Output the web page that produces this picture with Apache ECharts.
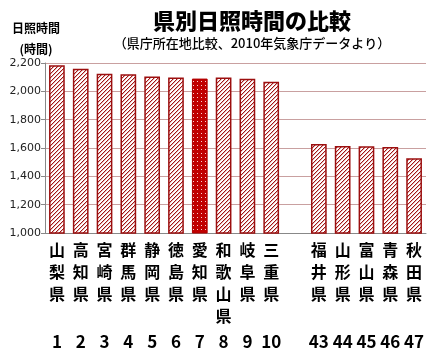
<!DOCTYPE html>
<html>
<head>
<meta charset="utf-8">
<script src="https://cdn.jsdelivr.net/npm/echarts@6/dist/echarts.min.js"></script>
<style>
    html, body { margin: 0; padding: 0; background: #fff; }
    #main { width: 433px; height: 353px; }
</style>
</head>
<body>
<div id="main"></div>
<script>
const prefs = ['山梨県', '高知県', '宮崎県', '群馬県', '静岡県', '徳島県', '愛知県', '和歌山県', '岐阜県', '三重県', '', '福井県', '山形県', '富山県', '青森県', '秋田県'];
const ranks = ['1', '2', '3', '4', '5', '6', '7', '8', '9', '10', '', '43', '44', '45', '46', '47'];
const hours = [2185, 2160, 2125, 2120, 2104, 2097, 2090, 2097, 2088, 2068, null, 1628, 1614, 1613, 1607, 1527];
const highlight = '愛知県';

// 斜線パターン
const hatch = document.createElement('canvas');
hatch.width = 4; hatch.height = 4;
let ctx = hatch.getContext('2d');
ctx.fillStyle = '#fff';
ctx.fillRect(0, 0, 4, 4);
for (let i = 0; i < 4; i++) {
    ctx.fillStyle = '#a31515';
    ctx.fillRect(i, 3 - i, 1, 1);
    ctx.fillStyle = 'rgba(163,21,21,0.3)';
    ctx.fillRect(i, (4 - i) % 4, 1, 1);
}

// ドットパターン（愛知県）
const dots = document.createElement('canvas');
dots.width = 4; dots.height = 4;
ctx = dots.getContext('2d');
ctx.fillStyle = '#c00000';
ctx.fillRect(0, 0, 4, 4);
ctx.fillStyle = '#f6d0d0';
ctx.fillRect(1, 1, 1, 1);

const myChart = echarts.init(document.getElementById('main'));
const option = {
    animation: false,
    title: [
        {
            text: '県別日照時間の比較',
            subtext: '（県庁所在地比較、2010年気象庁データより）',
            left: 247,
            top: 5,
            textAlign: 'center',
            itemGap: 5,
            textStyle: {
                fontFamily: 'Noto Sans CJK JP',
                fontSize: 22,
                fontWeight: 900,
                color: '#000',
            },
            subtextStyle: {
                fontFamily: 'Noto Sans CJK JP',
                fontSize: 13,
                fontWeight: 500,
                color: '#000',
            },
        },
        {
            text: '日照時間\n(時間)',
            left: 31,
            top: 13,
            textAlign: 'center',
            textStyle: {
                fontFamily: 'Noto Sans CJK JP',
                fontSize: 12,
                fontWeight: 'bold',
                lineHeight: 21,
                color: '#000',
            },
        },
    ],
    grid: {
        left: 45,
        right: 7,
        top: 63,
        bottom: 120,
    },
    xAxis: {
        type: 'category',
        data: prefs,
        axisLine: { lineStyle: { color: '#888', width: 1 } },
        axisTick: { show: false },
        axisLabel: {
            interval: 0,
            margin: 6,
            formatter: (v, i) => {
                const chars = v.split('');
                while (chars.length < 4) chars.push(' ');
                return chars.map(c => '{n|' + c + '}').join('\n') + '\n{d|' + ranks[i] + '}';
            },
            rich: {
                n: {
                    fontFamily: 'Noto Sans CJK JP',
                    fontSize: 16,
                    fontWeight: 'bold',
                    lineHeight: 22,
                    color: '#000',
                },
                d: {
                    fontFamily: 'Noto Sans CJK JP',
                    fontSize: 17,
                    fontWeight: 'bold',
                    lineHeight: 30,
                    color: '#000',
                },
            },
        },
    },
    yAxis: {
        type: 'value',
        min: 1000,
        max: 2200,
        interval: 200,
        axisLine: { show: true, lineStyle: { color: '#888' } },
        axisTick: { show: true, length: 4, lineStyle: { color: '#888' } },
        splitLine: { lineStyle: { color: '#c9a0a0', width: 1 } },
        axisLabel: {
            margin: 4,
            fontFamily: 'DejaVu Sans',
            fontSize: 11,
            color: '#222',
            formatter: v => v.toLocaleString('en-US'),
        },
    },
    series: [
        {
            type: 'bar',
            barWidth: '66%',
            data: hours.map((v, i) => ({
                value: v,
                itemStyle: prefs[i] === highlight
                    ? { color: { image: dots, repeat: 'repeat' }, borderColor: '#b00000', borderWidth: 1 }
                    : { color: { image: hatch, repeat: 'repeat' }, borderColor: '#9c0f0f', borderWidth: 1.5 },
            })),
        },
    ],
};
myChart.setOption(option);
</script>
</body>
</html>
